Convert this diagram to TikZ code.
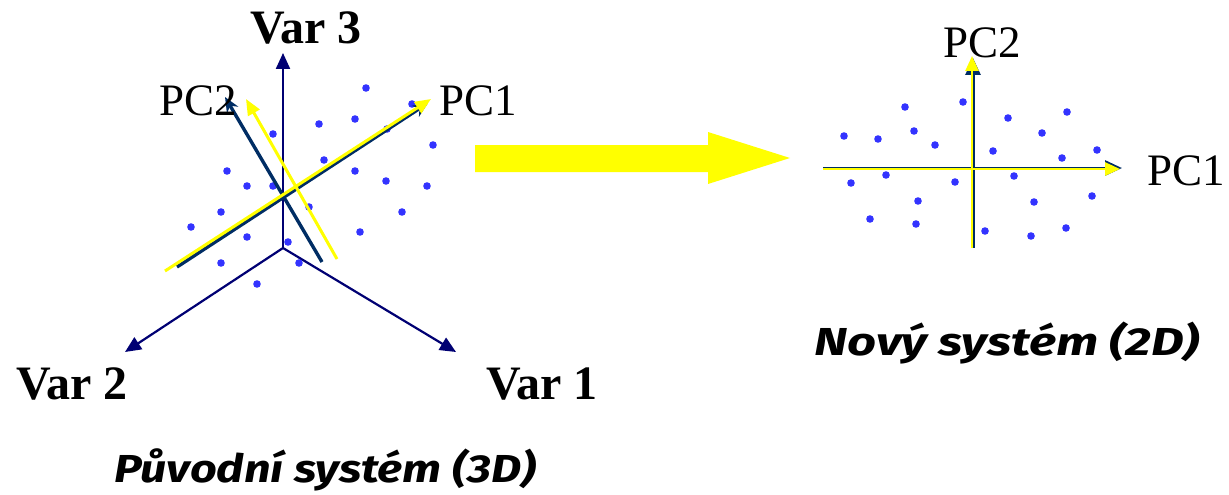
\documentclass[tikz,border=0pt]{standalone}
\usepackage{fontspec}
\setmainfont{Liberation Serif}
\newfontfamily\comicfont{Fira Sans}
\usetikzlibrary{arrows.meta}
\definecolor{axisnavy}{RGB}{0,0,115}
\definecolor{pcdark}{RGB}{0,45,100}
\definecolor{dotblue}{RGB}{51,51,255}
\definecolor{pyellow}{RGB}{255,255,0}
\tikzset{
  axisline/.style={draw=axisnavy, line width=2.2pt, -{Triangle[length=16pt,width=14pt]}},
  pcdarkline/.style={draw=pcdark, line width=3.4pt, -{Stealth[length=15pt,width=13pt]}},
  pcyellowline/.style={draw=pyellow, line width=3pt, -{Triangle[length=16pt,width=13pt]}},
  dot/.style={fill=dotblue, draw=none},
  varlabel/.style={font=\fontsize{48}{52}\selectfont\bfseries, inner sep=0pt},
  pclabel/.style={font=\fontsize{45}{50}\selectfont, inner sep=0pt},
  caption/.style={font=\comicfont\fontsize{39}{44}\selectfont\bfseries\itshape, inner sep=0pt},
}
\begin{document}
\begin{tikzpicture}[x=1pt,y=-1pt]
\useasboundingbox (0,0) rectangle (1229,495);
% ---------- left: original system ----------
\coordinate (O) at (283,248);
\coordinate (v3) at (283,53);
\coordinate (v2) at (125,352);
\coordinate (v1) at (456,352);
\draw[axisline] (O) -- (v3);
\draw[axisline] (O) -- (v2);
\draw[axisline] (O) -- (v1);
\foreach \x/\y in {366/88,412/104,319/124,355/119,387/129,273/134,433/145,324/160,
  227/171,355/171,247/186,273/186,386/181,427/186,309/207,221/212,402/212,191/227,
  360/232,247/237,288/242,221/263,299/263,257/284}
  \fill[dot] (\x,\y) circle (3.8);
\coordinate (d2s) at (322,262);
\coordinate (d2e) at (225,97);
\coordinate (d1s) at (177,267);
\coordinate (d1e) at (428,103);
\coordinate (y2s) at (337,259);
\coordinate (y2e) at (246,99);
\coordinate (y1s) at (165,271);
\coordinate (y1e) at (431,99);
\draw[pcdarkline] (d2s) -- (d2e);
\draw[pcdarkline] (d1s) -- (d1e);
\draw[pcyellowline] (y2s) -- (y2e);
\draw[pcyellowline] (y1s) -- (y1e);
\node[varlabel] (lv3) at (306,28) {Var 3};
\node[varlabel] (lv2) at (72,384) {Var 2};
\node[varlabel] (lv1) at (542,384) {Var 1};
\node[pclabel] (lpc2) at (198,101) {PC2};
\node[pclabel] (lpc1) at (478,101) {PC1};
\node[caption] (cap1) at (325,470) {\scalebox{1.2}[1]{Původní systém (3D)}};
% ---------- big arrow ----------
\fill[pyellow] (475,145) -- (708,145) -- (708,132) -- (790,158) -- (708,184) -- (708,172) -- (475,172) -- cycle;
% ---------- right: new system ----------
\coordinate (h1) at (823,169);
\coordinate (h2) at (1122,169);
\coordinate (u1) at (972,248);
\coordinate (u2) at (972,58);
\draw[draw=pcdark, line width=3pt, -{Triangle[length=17pt,width=15pt]}] ([yshift=1pt]h1) -- ([yshift=1pt]h2);
\draw[draw=pcdark, line width=3pt, -{Triangle[length=17pt,width=15pt]}] ([xshift=1pt]u1) -- ([xshift=1pt]u2);
\draw[draw=pyellow, line width=2.6pt, -{Triangle[length=15pt,width=13pt]}] (h1) -- ([xshift=-2pt]h2);
\draw[draw=pyellow, line width=2.6pt, -{Triangle[length=15pt,width=13pt]}] (u1) -- ([yshift=2pt]u2);
\foreach \x/\y in {963/102,905/107,1067/112,1008/118,844/136,878/139,914/131,1042/133,
  935/145,993/151,1097/150,1062/158,886/175,851/183,955/182,1014/176,918/201,1034/202,
  1092/196,870/219,916/224,985/231,1031/236,1066/228}
  \fill[dot] (\x,\y) circle (3.8);
\node[pclabel] (rpc2) at (982,43) {PC2};
\node[pclabel] (rpc1) at (1186,171) {PC1};
\node[caption] (cap2) at (1007,343) {\scalebox{1.3}[1]{Nový systém (2D)}};
\end{tikzpicture}
\end{document}
